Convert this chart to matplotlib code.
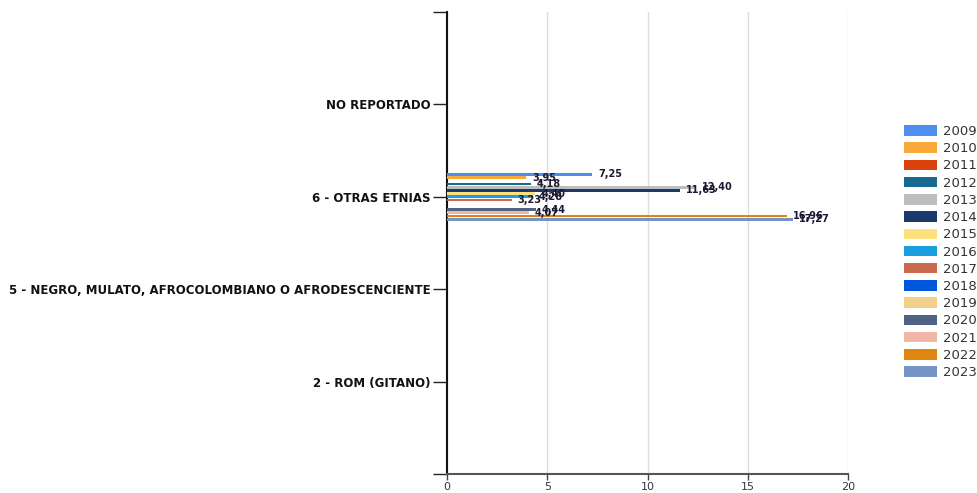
import numpy as np
import matplotlib
matplotlib.use("Agg")
import matplotlib.pyplot as plt

categories = ["NO REPORTADO", "6 - OTRAS ETNIAS",
              "5 - NEGRO, MULATO, AFROCOLOMBIANO O AFRODESCENCIENTE",
              "2 - ROM (GITANO)"]
years = [str(y) for y in range(2009, 2024)]
colors = ['#4D8FEF', '#F9A93A', '#D9420B', '#166A8F', '#BDBDBD', '#1B3A6B',
          '#FDE17E', '#1A9FE0', '#C96A4E', '#0057DE', '#F2D089', '#4F6382',
          '#F0B7A6', '#E0850F', '#7593C4']

# valores de "6 - OTRAS ETNIAS" por año (nan = sin dato)
otras_etnias = [7.25, 3.95, np.nan, 4.18, 12.40, 11.63, 4.40, 4.28, 3.23,
                np.nan, np.nan, 4.44, 4.07, 16.96, 17.27]

values = {cat: [np.nan] * len(years) for cat in categories}
values["6 - OTRAS ETNIAS"] = otras_etnias

fig = plt.figure(figsize=(9.77, 4.93), dpi=100)
ax = fig.add_axes([447 / 977, 19 / 493, 401 / 977, 462 / 493])

n = len(years)
slot = 0.52 / n
bar_h = slot * 0.88
ypos = np.arange(len(categories))

for i, (yr, col) in enumerate(zip(years, colors)):
    vals = np.array([values[c][i] for c in categories], dtype=float)
    offs = ypos - 0.26 + slot * (i + 0.5)
    ax.barh(offs, np.nan_to_num(vals), height=bar_h, color=col, label=yr,
            zorder=3)
    for y, v in zip(offs, vals):
        if not np.isnan(v):
            ax.text(v + 0.3, y, f"{v:.2f}".replace(".", ","), fontsize=7,
                    fontweight='bold', color='#1a1a33', va='center',
                    ha='left', zorder=4)

ax.set_xlim(0, 20)
ax.set_ylim(4, -1)
ax.set_xticks([0, 5, 10, 15, 20])
ax.set_yticks(ypos)
ax.set_yticklabels(categories, fontsize=8.5, fontweight='bold', color='#111111')
ax.set_yticks([-1, 4], minor=True)
ax.tick_params(axis='y', which='both', length=10, width=1, color='#222222', pad=2)
ax.tick_params(axis='x', length=4, width=1, color='#444444', labelsize=8,
               labelcolor='#333344', pad=2)
ax.grid(axis='x', color='#dddddd', linewidth=1, zorder=0)
for s in ['top', 'right']:
    ax.spines[s].set_visible(False)
ax.spines['left'].set_color('#111111')
ax.spines['left'].set_linewidth(1.5)
ax.spines['bottom'].set_color('#555555')
ax.spines['bottom'].set_linewidth(1.5)

leg = fig.legend(loc='upper left', bbox_to_anchor=(904 / 977, 1 - 125 / 493),
                 frameon=False, fontsize=9.5, handlelength=2.5,
                 handleheight=0.85, labelspacing=0.32, handletextpad=0.45,
                 borderpad=0, borderaxespad=0)
for t in leg.get_texts():
    t.set_color('#333333')

fig.savefig("out.png", dpi=100)
